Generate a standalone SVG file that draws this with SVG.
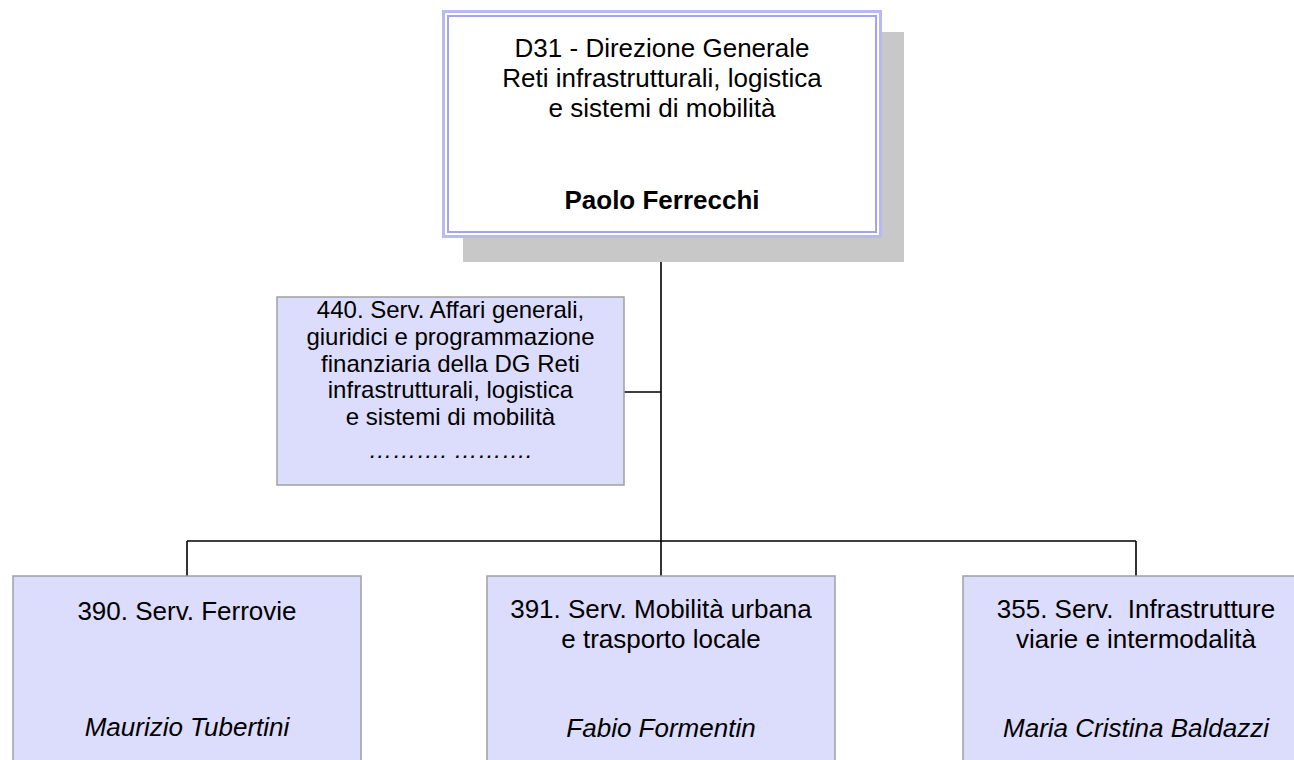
<svg xmlns="http://www.w3.org/2000/svg" width="1294" height="760" viewBox="0 0 1294 760">
<style>
text{font-family:"Liberation Sans",Arial,sans-serif;fill:#000;text-anchor:middle}
.t{font-size:26px}
.s{font-size:24px}
.b{font-weight:bold}
.i{font-style:italic}
.box{fill:#dcdcfc;stroke:#a0a0a0;stroke-width:1.5}
.ln{fill:none;stroke:#000;stroke-width:1.6}
</style>
<rect width="1294" height="760" fill="#fff"/>
<g id="connectors">
<path class="ln" d="M661,238 V541 M624,392 H661 M187,541 H1136 M187,541 V576 M661,541 V576 M1136,541 V576"/>
</g>
<g id="node-d31">
<rect x="463" y="32" width="441" height="230" fill="#c8c8c8"/>
<rect x="443.5" y="11.5" width="437" height="225" fill="#fff" stroke="#b8b8f4" stroke-width="3"/>
<rect x="448" y="16" width="428" height="216" fill="#fff" stroke="#a4a4ee" stroke-width="2"/>
<text class="t" x="662" y="57">D31 - Direzione Generale</text>
<text class="t" x="662" y="87">Reti infrastrutturali, logistica</text>
<text class="t" x="662" y="117">e sistemi di mobilità</text>
<text class="t b" x="662" y="209">Paolo Ferrecchi</text>
</g>
<g id="node-440">
<rect class="box" x="277" y="297" width="347" height="188"/>
<text class="s" x="450.5" y="318">440. Serv. Affari generali,</text>
<text class="s" x="450.5" y="345">giuridici e programmazione</text>
<text class="s" x="450.5" y="372">finanziaria della DG Reti</text>
<text class="s" x="450.5" y="398">infrastrutturali, logistica</text>
<text class="s" x="450.5" y="425">e sistemi di mobilità</text>
<text class="s i" x="450.5" y="458">………. ……….</text>
</g>
<g id="node-390">
<rect class="box" x="13" y="576" width="348" height="200"/>
<text class="t" x="187" y="620">390. Serv. Ferrovie</text>
<text class="t i" x="187" y="736">Maurizio Tubertini</text>
</g>
<g id="node-391">
<rect class="box" x="487" y="576" width="348" height="200"/>
<text class="t" x="661" y="618">391. Serv. Mobilità urbana</text>
<text class="t" x="661" y="648">e trasporto locale</text>
<text class="t i" x="661" y="737">Fabio Formentin</text>
</g>
<g id="node-355">
<rect class="box" x="963" y="576" width="348" height="200"/>
<text class="t" x="1136" y="618" xml:space="preserve">355. Serv.  Infrastrutture</text>
<text class="t" x="1136" y="648">viarie e intermodalità</text>
<text class="t i" x="1136" y="737">Maria Cristina Baldazzi</text>
</g>
</svg>
